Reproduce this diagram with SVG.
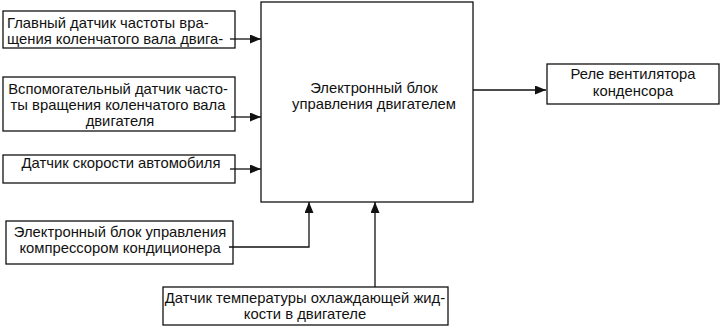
<svg xmlns="http://www.w3.org/2000/svg" width="725" height="329" viewBox="0 0 725 329">
<style>
  .box { fill: #fff; stroke: #111; stroke-width: 1.3; }
  .t { font-family: "Liberation Sans", Arial, sans-serif; font-size: 14.8px; fill: #111; }
  .c { text-anchor: middle; }
  .ln { fill: none; stroke: #111; stroke-width: 1.3; }
</style>
<defs>
  <marker id="ah" viewBox="0 0 11 9" refX="11" refY="4.5" markerWidth="11" markerHeight="9" markerUnits="userSpaceOnUse" orient="auto">
    <path d="M0,0 L11,4.5 L0,9 Z" fill="#111"/>
  </marker>
</defs>
<rect width="725" height="329" fill="#fff"/>

<g id="ecu">
  <rect class="box" x="261" y="2" width="212" height="200"/>
  <text class="t c" x="374" y="93">Электронный блок</text>
  <text class="t c" x="374" y="109">управления двигателем</text>
</g>
<g id="main-sensor">
  <rect class="box" x="3" y="11" width="232" height="37"/>
  <text class="t" x="7" y="28">Главный датчик частоты вра-</text>
  <text class="t" x="7" y="44">щения коленчатого вала двига-</text>
</g>
<g id="aux-sensor">
  <rect class="box" x="3" y="77" width="232" height="54"/>
  <text class="t c" x="118" y="94">Вспомогательный датчик часто-</text>
  <text class="t c" x="118" y="110">ты вращения коленчатого вала</text>
  <text class="t c" x="120" y="126">двигателя</text>
</g>
<g id="speed-sensor">
  <rect class="box" x="3" y="155" width="232" height="28"/>
  <text class="t c" x="121" y="168">Датчик скорости автомобиля</text>
</g>
<g id="ac-ecu">
  <rect class="box" x="6" y="221" width="227" height="43"/>
  <text class="t c" x="120" y="237">Электронный блок управления</text>
  <text class="t c" x="120" y="253">компрессором кондиционера</text>
</g>
<g id="coolant-sensor">
  <rect class="box" x="163" y="287" width="285" height="38"/>
  <text class="t c" x="305" y="303">Датчик температуры охлаждающей жид-</text>
  <text class="t c" x="305" y="319">кости в двигателе</text>
</g>
<g id="relay">
  <rect class="box" x="547" y="64" width="172" height="40"/>
  <text class="t c" x="633" y="79">Реле вентилятора</text>
  <text class="t c" x="633" y="96">конденсора</text>
</g>

<g id="connectors">
  <path class="ln" d="M230,39 H261" marker-end="url(#ah)"/>
  <path class="ln" d="M231,117 H261" marker-end="url(#ah)"/>
  <path class="ln" d="M230,169 H261" marker-end="url(#ah)"/>
  <path class="ln" d="M229,247 H309 V202" marker-end="url(#ah)"/>
  <path class="ln" d="M375,287 V202" marker-end="url(#ah)"/>
  <path class="ln" d="M473,90 H546" marker-end="url(#ah)"/>
</g>
</svg>
